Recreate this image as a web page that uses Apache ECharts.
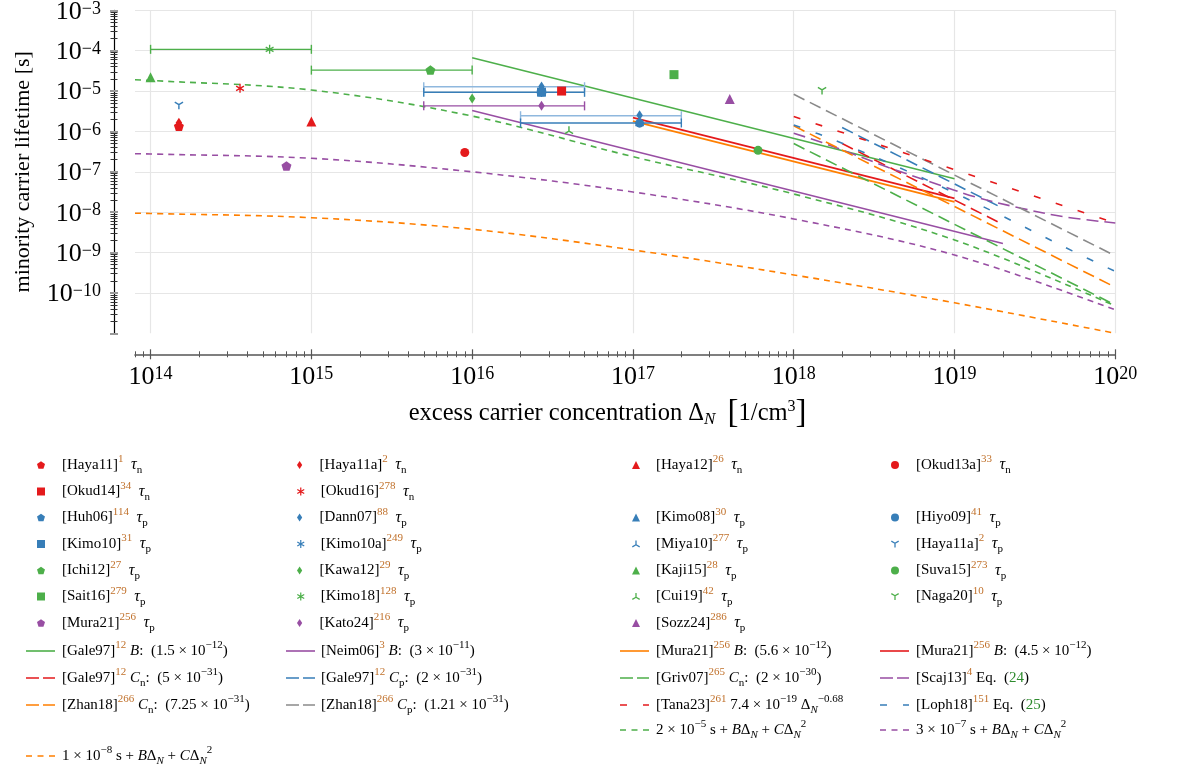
<!DOCTYPE html>
<html><head><meta charset="utf-8">
<script src="https://cdn.jsdelivr.net/npm/echarts@6/dist/echarts.min.js"></script>
<style>html,body{margin:0;padding:0;background:#fff}#c{width:1180px;height:773px}</style>
</head><body><div id="c"></div>
<script>
// ===================== DATA =====================
const xDecades = [14, 15, 16, 17, 18, 19, 20];          // x tick labels 10^n
const yDecades = [-10, -9, -8, -7, -6, -5, -4, -3];     // y tick labels 10^n
const xMin = 8e13, xMax = 1e20, yMin = 1e-11, yMax = 1e-3;

// measured lifetimes [Δn (1/cm^3), τ (s)]
const haya11_n  = [[1.5e14, 1.35e-6]];
const haya11a_n = [[1.5e14, 1.65e-6]];
const haya12_n  = [[1.0e15, 1.75e-6]];
const okud13a_n = [[9.0e15, 3.0e-7]];
const okud14_n  = [[3.6e16, 1.0e-5]];
const okud16_n  = [[3.6e14, 1.17e-5]];
const huh06_p   = [[2.7e16, 9.6e-6]];
const dann07_p  = [[2.7e16, 1.3e-5], [1.1e17, 2.5e-6]];
const kimo08_p  = [[2.7e16, 1.15e-5]];
const hiyo09_p  = [[1.1e17, 1.6e-6]];
const kimo10_p  = [[2.7e16, 9.4e-6]];
const kimo10a_p = [[2.7e16, 9.2e-6]];
const miya10_p  = [[1.1e17, 1.65e-6]];
const haya11a_p = [[1.5e14, 4.4e-6]];
const ichi12_p  = [[5.5e15, 3.3e-5]];
const kawa12_p  = [[1.0e16, 6.5e-6]];
const kaji15_p  = [[1.0e14, 2.2e-5]];
const suva15_p  = [[6.0e17, 3.4e-7]];
const sait16_p  = [[1.8e17, 2.55e-5]];
const kimo18_p  = [[5.5e14, 1.08e-4]];
const cui19_p   = [[4.0e16, 1.07e-6]];
const naga20_p  = [[1.5e18, 1.02e-5]];
const mura21_p  = [[7.0e14, 1.4e-7]];
const kato24_p  = [[2.7e16, 4.3e-6]];
const sozz24_p  = [[4.0e17, 6.4e-6]];

// horizontal error bars [Δn low, Δn high, τ]
const kimo18_err  = [1e14, 1e15, 1.08e-4];
const ichi12_err  = [1e15, 1e16, 3.3e-5];
const dann07_err1 = [5e15, 5e16, 1.28e-5];
const kimo10_err  = [5e15, 5e16, 9.3e-6];
const kato24_err  = [5e15, 5e16, 4.3e-6];
const dann07_err2 = [2e16, 2e17, 2.45e-6];
const hiyo09_err  = [2e16, 2e17, 1.62e-6];

// model lines [Δn, τ]
const gale97B   = [[1e16, 6.7e-5], [1e19, 6.7e-8]];
const neim06B   = [[1e16, 3.3e-6], [2e19, 1.67e-9]];
const mura21B56 = [[1e17, 1.8e-6], [1e19, 1.8e-8]];
const mura21B45 = [[1e17, 2.2e-6], [1e19, 2.2e-8]];
const gale97Cn  = [[2e18, 5e-7], [2e19, 5e-9]];
const gale97Cp  = [[2e18, 1.25e-6], [2e19, 1.25e-8]];
const griv07Cn  = [[1e18, 5e-7], [1e20, 5e-11]];
const scaj13    = [[1e18, 9e-7], [1.5e18, 5.3e-7], [3.85e18, 1.3e-7], [7.1e18, 5.6e-8], [1.34e19, 2.4e-8], [2.6e19, 1.25e-8], [4.9e19, 7.6e-9], [1e20, 5.4e-9]];
const zhan18Cn  = [[1e18, 1.38e-6], [1e20, 1.38e-10]];
const zhan18Cp  = [[1e18, 8.3e-6], [1e20, 8.3e-10]];
const tana23    = [[1e18, 2.35e-6], [1e20, 5.4e-9]];
const loph18    = [[1e18, 1.44e-6], [1.42e18, 8.7e-7], [2e18, 5.1e-7], [5e18, 1.07e-7], [1e19, 3.0e-8], [2e19, 7.9e-9], [5.4e19, 1.1e-9], [1e20, 3.4e-10]];
const curve2e5  = [[8e13, 1.91e-5], [1e14, 1.83e-5], [1e15, 1.06e-5], [1e16, 2.4e-6], [1e17, 2.37e-7], [1e18, 2.82e-8], [1e19, 2.05e-9], [1e20, 4.76e-11]];
const curve3e7  = [[8e13, 2.81e-7], [1e14, 2.76e-7], [1e15, 2.16e-7], [1e16, 1.0e-7], [1e17, 3.16e-8], [1e18, 6.8e-9], [1e19, 8.7e-10], [1e20, 3.8e-11]];
const curve1e8  = [[8e13, 9.4e-9], [1e14, 9.3e-9], [1e15, 7.3e-9], [1e16, 3.77e-9], [1e17, 1.16e-9], [1e18, 2.79e-10], [1e19, 5.7e-11], [1e20, 1.0e-11]];

// ===================== STYLE =====================
const SERIF = "'Liberation Serif', 'DejaVu Serif', serif";
const RED = '#e41a1c', BLUE = '#377eb8', LBLUE = '#8fb8de', GREEN = '#4daf4a',
      PURPLE = '#984ea3', ORANGE = '#ff7f00', GREY = '#8a8a8a';
const CITE = '#c0702a', EQ = '#2e8b2e';

const SYM = {
  pent: 'path://M0,-10L9.51,-3.09L5.88,8.09L-5.88,8.09L-9.51,-3.09Z',
  diam: 'path://M0,-10L6.5,0L0,10L-6.5,0Z',
  tri: 'triangle',
  circ: 'circle',
  sq: 'rect',
  ast: 'path://M-1.5,-10L1.5,-10L1.5,10L-1.5,10Z M7.91,-6.30L9.41,-3.70L-7.91,6.30L-9.41,3.70Z M-9.41,-3.70L-7.91,-6.30L9.41,3.70L7.91,6.30Z',
  ydn: 'path://M-1.5,0L1.5,0L1.5,10L-1.5,10Z M0.75,-1.299L-0.75,1.299L-9.41,-3.70L-7.91,-6.30Z M0.75,1.299L-0.75,-1.299L7.91,-6.30L9.41,-3.70Z',
  yup: 'path://M-1.5,0L1.5,0L1.5,-10L-1.5,-10Z M0.75,1.299L-0.75,-1.299L-9.41,3.70L-7.91,6.30Z M0.75,-1.299L-0.75,1.299L7.91,6.30L9.41,3.70Z'
};
const SYMSIZE = {pent: 10, diam: 10, tri: 10, circ: 9, sq: 9, ast: 9, ydn: 9, yup: 9};

const L = Math.log10;
const lg = d => d.map(p => [L(p[0]), L(p[1])]);

// drawing order: hidden/background markers first
const markerDefs = [
  ['Huh06_p', huh06_p, BLUE, 'pent'], ['Kimo10a_p', kimo10a_p, BLUE, 'ast'], ['Miya10_p', miya10_p, BLUE, 'yup'],
  ['Haya11_n', haya11_n, RED, 'pent'], ['Haya11a_n', haya11a_n, RED, 'diam'],
  ['Haya12_n', haya12_n, RED, 'tri'], ['Okud13a_n', okud13a_n, RED, 'circ'],
  ['Okud14_n', okud14_n, RED, 'sq'], ['Okud16_n', okud16_n, RED, 'ast'],
  ['Kimo08_p', kimo08_p, BLUE, 'tri'], ['Dann07_p', dann07_p, BLUE, 'diam'], ['Hiyo09_p', hiyo09_p, BLUE, 'circ'],
  ['Kimo10_p', kimo10_p, BLUE, 'sq'], ['Haya11a_p', haya11a_p, BLUE, 'ydn'],
  ['Ichi12_p', ichi12_p, GREEN, 'pent'], ['Kawa12_p', kawa12_p, GREEN, 'diam'],
  ['Kaji15_p', kaji15_p, GREEN, 'tri'], ['Suva15_p', suva15_p, GREEN, 'circ'],
  ['Sait16_p', sait16_p, GREEN, 'sq'], ['Kimo18_p', kimo18_p, GREEN, 'ast'],
  ['Cui19_p', cui19_p, GREEN, 'yup'], ['Naga20_p', naga20_p, GREEN, 'ydn'],
  ['Mura21_p', mura21_p, PURPLE, 'pent'], ['Kato24_p', kato24_p, PURPLE, 'diam'],
  ['Sozz24_p', sozz24_p, PURPLE, 'tri']
];

const LONG = [12, 6], SPARSE = [7, 16], SHORT = [6, 5];
const ICON = {
  solid: 'path://M0,0h29v1.6h-29z',
  long: 'path://M0,0h13v1.6h-13z M17,0h12v1.6h-12z',
  sparse: 'path://M0,0h7v1.6h-7z M23,0h6v1.6h-6z',
  short: 'path://M0,0h6v1.6h-6z M11.5,0h6v1.6h-6z M23,0h6v1.6h-6z'
};
const lineDefs = [
  ['Gale97B', gale97B, GREEN, 'solid', false], ['Neim06B', neim06B, PURPLE, 'solid', false],
  ['Mura21B56', mura21B56, ORANGE, 'solid', false], ['Mura21B45', mura21B45, RED, 'solid', false],
  ['Gale97Cn', gale97Cn, RED, 'long', false], ['Gale97Cp', gale97Cp, BLUE, 'long', false],
  ['Griv07Cn', griv07Cn, GREEN, 'long', false], ['Scaj13', scaj13, PURPLE, 'long', true],
  ['Zhan18Cn', zhan18Cn, ORANGE, 'long', false], ['Zhan18Cp', zhan18Cp, GREY, 'long', false],
  ['Tana23', tana23, RED, 'sparse', false], ['Loph18', loph18, BLUE, 'sparse', true],
  ['Curve2e5', curve2e5, GREEN, 'short', true], ['Curve3e7', curve3e7, PURPLE, 'short', true],
  ['Curve1e8', curve1e8, ORANGE, 'short', true]
];
const DASH = {solid: 'solid', long: LONG, sparse: SPARSE, short: SHORT};

const errDefs = [
  [kimo18_err, GREEN], [ichi12_err, GREEN], [dann07_err1, LBLUE], [kimo10_err, BLUE],
  [kato24_err, PURPLE], [dann07_err2, LBLUE], [hiyo09_err, BLUE]
];

// legend texts (rich)
const mk = (ref, cite, s) => `[${ref}]{c|${cite}}  {t|τ}{sb|${s}}`;
const legendText = {
  Haya11_n: mk('Haya11', 1, 'n'), Haya11a_n: mk('Haya11a', 2, 'n'), Haya12_n: mk('Haya12', 26, 'n'),
  Okud13a_n: mk('Okud13a', 33, 'n'), Okud14_n: mk('Okud14', 34, 'n'), Okud16_n: mk('Okud16', 278, 'n'),
  Huh06_p: mk('Huh06', 114, 'p'), Dann07_p: mk('Dann07', 88, 'p'), Kimo08_p: mk('Kimo08', 30, 'p'),
  Hiyo09_p: mk('Hiyo09', 41, 'p'), Kimo10_p: mk('Kimo10', 31, 'p'), Kimo10a_p: mk('Kimo10a', 249, 'p'),
  Miya10_p: mk('Miya10', 277, 'p'), Haya11a_p: mk('Haya11a', 2, 'p'), Ichi12_p: mk('Ichi12', 27, 'p'),
  Kawa12_p: mk('Kawa12', 29, 'p'), Kaji15_p: mk('Kaji15', 28, 'p'), Suva15_p: mk('Suva15', 273, 'p'),
  Sait16_p: mk('Sait16', 279, 'p'), Kimo18_p: mk('Kimo18', 128, 'p'), Cui19_p: mk('Cui19', 42, 'p'),
  Naga20_p: mk('Naga20', 10, 'p'), Mura21_p: mk('Mura21', 256, 'p'), Kato24_p: mk('Kato24', 216, 'p'),
  Sozz24_p: mk('Sozz24', 286, 'p'),
  Gale97B: '[Gale97]{c|12} {i|B}:  (1.5 × 10{k|−12})',
  Neim06B: '[Neim06]{c|3} {i|B}:  (3 × 10{k|−11})',
  Mura21B56: '[Mura21]{c|256} {i|B}:  (5.6 × 10{k|−12})',
  Mura21B45: '[Mura21]{c|256} {i|B}:  (4.5 × 10{k|−12})',
  Gale97Cn: '[Gale97]{c|12} {i|C}{sb|n}:  (5 × 10{k|−31})',
  Gale97Cp: '[Gale97]{c|12} {i|C}{sb|p}:  (2 × 10{k|−31})',
  Griv07Cn: '[Griv07]{c|265} {i|C}{sb|n}:  (2 × 10{k|−30})',
  Scaj13: '[Scaj13]{c|4} Eq.  ({g|24})',
  Zhan18Cn: '[Zhan18]{c|266} {i|C}{sb|n}:  (7.25 × 10{k|−31})',
  Zhan18Cp: '[Zhan18]{c|266} {i|C}{sb|p}:  (1.21 × 10{k|−31})',
  Tana23: '[Tana23]{c|261} 7.4 × 10{k|−19} Δ{si|N}{k|−0.68}',
  Loph18: '[Loph18]{c|151} Eq.  ({g|25})',
  Curve2e5: '2 × 10{k|−5} s + {i|B}Δ{si|N} + {i|C}Δ{si|N}{k|2}',
  Curve3e7: '3 × 10{k|−7} s + {i|B}Δ{si|N} + {i|C}Δ{si|N}{k|2}',
  Curve1e8: '1 × 10{k|−8} s + {i|B}Δ{si|N} + {i|C}Δ{si|N}{k|2}'
};

const legendLayout = [
  ['Haya11_n',0,0],['Haya11a_n',0,1],['Haya12_n',0,2],['Okud13a_n',0,3],
  ['Okud14_n',1,0],['Okud16_n',1,1],
  ['Huh06_p',2,0],['Dann07_p',2,1],['Kimo08_p',2,2],['Hiyo09_p',2,3],
  ['Kimo10_p',3,0],['Kimo10a_p',3,1],['Miya10_p',3,2],['Haya11a_p',3,3],
  ['Ichi12_p',4,0],['Kawa12_p',4,1],['Kaji15_p',4,2],['Suva15_p',4,3],
  ['Sait16_p',5,0],['Kimo18_p',5,1],['Cui19_p',5,2],['Naga20_p',5,3],
  ['Mura21_p',6,0],['Kato24_p',6,1],['Sozz24_p',6,2],
  ['Gale97B',7,0],['Neim06B',7,1],['Mura21B56',7,2],['Mura21B45',7,3],
  ['Gale97Cn',8,0],['Gale97Cp',8,1],['Griv07Cn',8,2],['Scaj13',8,3],
  ['Zhan18Cn',9,0],['Zhan18Cp',9,1],['Tana23',9,2],['Loph18',9,3],
  ['Curve2e5',10,2],['Curve3e7',10,3],
  ['Curve1e8',11,0]
];
const rowY = [465, 491.5, 517.5, 544, 570.5, 596.5, 623, 651, 678, 705, 730, 756];
const markX = [41, 301, 636, 895];
const lineX = [26, 286, 620, 880];
const textX = [62, 321, 656, 916];

const legendRich = {
  c: {fontFamily: SERIF, fontSize: 11, color: CITE, verticalAlign: 'top', lineHeight: 13},
  k: {fontFamily: SERIF, fontSize: 11, color: '#000', verticalAlign: 'top', lineHeight: 13},
  t: {fontFamily: SERIF, fontSize: 16, fontStyle: 'italic', color: '#000', lineHeight: 22},
  sb: {fontFamily: SERIF, fontSize: 11, color: '#000', verticalAlign: 'bottom', lineHeight: 15},
  si: {fontFamily: SERIF, fontSize: 11, fontStyle: 'italic', color: '#000', verticalAlign: 'bottom', lineHeight: 15},
  i: {fontFamily: SERIF, fontSize: 15, fontStyle: 'italic', color: '#000', lineHeight: 22},
  g: {fontFamily: SERIF, fontSize: 15, color: EQ, lineHeight: 22}
};

// ===================== BUILD =====================
const xLo = L(xMin), xHi = L(xMax), yLo = L(yMin), yHi = L(yMax);
function logTicks(lo, hi, majorOnly) {
  const out = [];
  for (let n = Math.floor(lo); n <= Math.ceil(hi); n++) {
    for (let k = 1; k <= 9; k++) {
      if (majorOnly && k > 1) continue;
      const v = n + Math.log10(k);
      if (v >= lo - 1e-9 && v <= hi + 1e-9) out.push(Math.min(Math.max(v, lo), hi));
    }
  }
  return out;
}
const xMinor = logTicks(xLo, xHi, false), xMajor = logTicks(xLo, xHi, true);
const yMinor = logTicks(yLo, yHi, false), yMajor = logTicks(yLo, yHi, true);

const tickLabelRich = {
  b: {fontFamily: SERIF, fontSize: 26, color: '#000', lineHeight: 24},
  s: {fontFamily: SERIF, fontSize: 18, color: '#000', verticalAlign: 'top', lineHeight: 19}
};
const supLabel = v => `{b|10}{s|${v < 0 ? '−' + (-v) : v}}`;

function xAxisCfg(extra) {
  return Object.assign({
    type: 'value', min: xLo, max: xHi, position: 'bottom', offset: 21,
    axisLine: {show: false}, axisTick: {show: false}, axisLabel: {show: false},
    splitLine: {show: false}
  }, extra);
}
function yAxisCfg(extra) {
  return Object.assign({
    type: 'value', min: yLo, max: yHi, interval: 1, position: 'left', offset: 21,
    axisLine: {show: false}, axisTick: {show: false}, axisLabel: {show: false},
    splitLine: {show: false}
  }, extra);
}
const AX = '#555';
const xAxes = [
  {type: 'value', min: xLo, max: xHi, offset: 0,
   axisLine: {show: false}, axisLabel: {show: false},
   axisTick: {show: false, customValues: xDecades},
   splitLine: {show: true, lineStyle: {color: '#e6e6e6', width: 1.2}}},
  xAxisCfg({axisLine: {show: true, lineStyle: {color: AX, width: 1.6}},
    axisTick: {show: true, customValues: xMinor, length: 3, lineStyle: {color: AX, width: 1}},
    axisLabel: {show: true, customValues: xDecades, margin: 11, formatter: supLabel, rich: tickLabelRich},
    name: 'excess carrier concentration {d|Δ}{ni|N}  {br|[}1/cm{cu|3}{br|]}',
    nameLocation: 'middle', nameGap: 44,
    nameTextStyle: {fontFamily: SERIF, fontSize: 24.5, color: '#000', lineHeight: 30, padding: [0, 35, 0, 0],
      rich: {d: {fontFamily: SERIF, fontSize: 24.5, lineHeight: 30},
             ni: {fontFamily: SERIF, fontSize: 17, fontStyle: 'italic', verticalAlign: 'bottom', lineHeight: 21},
             br: {fontFamily: SERIF, fontSize: 33, lineHeight: 30},
             cu: {fontFamily: SERIF, fontSize: 16, verticalAlign: 'top', lineHeight: 18}}}}),
  xAxisCfg({axisTick: {show: true, inside: true, customValues: xMinor, length: 3, lineStyle: {color: AX, width: 1}}}),
  xAxisCfg({axisTick: {show: true, customValues: xMajor, length: 5, lineStyle: {color: AX, width: 1.2}}}),
  xAxisCfg({axisTick: {show: true, inside: true, customValues: xMajor, length: 5, lineStyle: {color: AX, width: 1.2}}})
];
const yAxes = [
  {type: 'value', min: yLo, max: yHi, interval: 1, offset: 0,
   axisLine: {show: false}, axisLabel: {show: false}, axisTick: {show: false},
   splitLine: {show: true, showMinLine: false, lineStyle: {color: '#e6e6e6', width: 1.2}}},
  yAxisCfg({axisLine: {show: true, lineStyle: {color: '#000', width: 1.2}},
    axisTick: {show: true, customValues: yMinor, length: 3.5, lineStyle: {color: '#333', width: 1}},
    axisLabel: {show: true, customValues: yDecades, margin: 13, padding: [3, 0, 0, 0], formatter: supLabel, rich: tickLabelRich},
    name: 'minority carrier lifetime [s]', nameLocation: 'middle', nameGap: 80, nameRotate: 90,
    nameTextStyle: {fontFamily: SERIF, fontSize: 22, color: '#000'}}),
  yAxisCfg({axisTick: {show: true, inside: true, customValues: yMinor, length: 3.5, lineStyle: {color: '#333', width: 1}}}),
  yAxisCfg({axisTick: {show: true, customValues: yMajor, length: 4, lineStyle: {color: '#999', width: 2}}}),
  yAxisCfg({axisTick: {show: true, inside: true, customValues: yMajor, length: 4, lineStyle: {color: '#999', width: 2}}})
];

const series = [];
lineDefs.forEach(([name, d, color, type, smooth]) => {
  series.push({type: 'line', name, data: lg(d), symbol: 'none', smooth: smooth ? 0.35 : false,
    lineStyle: {color, width: 1.6, type: DASH[type]}, itemStyle: {color}, z: 2, silent: true});
});
series.push({
  type: 'custom', name: 'errbars', z: 3, silent: true,
  encode: {x: [0, 1], y: 2},
  data: errDefs.map(([e, color]) => ({value: [L(e[0]), L(e[1]), L(e[2])], itemStyle: {color}})),
  renderItem: (params, api) => {
    const y = api.value(2);
    const a = api.coord([api.value(0), y]), b = api.coord([api.value(1), y]);
    const st = {stroke: api.visual('color'), lineWidth: 1.4};
    const h = 4.5;
    return {type: 'group', children: [
      {type: 'line', shape: {x1: a[0], y1: a[1], x2: b[0], y2: b[1]}, style: st},
      {type: 'line', shape: {x1: a[0], y1: a[1] - h, x2: a[0], y2: a[1] + h}, style: st},
      {type: 'line', shape: {x1: b[0], y1: b[1] - h, x2: b[0], y2: b[1] + h}, style: st}
    ]};
  }
});
markerDefs.forEach(([name, d, color, sym], idx) => {
  series.push({type: 'scatter', name, data: lg(d), symbol: SYM[sym], symbolSize: SYMSIZE[sym],
    symbolKeepAspect: true, itemStyle: {color, opacity: 1}, z: 5, zlevel: 0, silent: true});
});

const lineType = {};
lineDefs.forEach(d => { lineType[d[0]] = d[3]; });
const legends = legendLayout.map(([name, r, c]) => {
  const lt = lineType[name];
  const cfg = {
    data: [name], padding: 0, itemGap: 0, selectedMode: false,
    top: rowY[r] - 11,
    formatter: () => legendText[name]
  };
  if (lt) {
    Object.assign(cfg, {left: lineX[c], itemWidth: 29, itemHeight: 1.6, icon: ICON[lt],
      itemStyle: {borderWidth: 0},
      textStyle: {fontFamily: SERIF, fontSize: 15, color: '#000', lineHeight: 22, rich: legendRich,
        padding: [0, 0, 0, Math.max(0, textX[c] - lineX[c] - 34)]}});
  } else {
    Object.assign(cfg, {left: markX[c] - 4, itemWidth: 8, itemHeight: 8,
      textStyle: {fontFamily: SERIF, fontSize: 15, color: '#000', lineHeight: 22, rich: legendRich,
        padding: [0, 0, 0, textX[c] - markX[c] - 9]}});
  }
  return cfg;
});

const chart = echarts.init(document.getElementById('c'), null, {renderer: 'canvas'});
chart.setOption({
  animation: false,
  backgroundColor: '#fff',
  grid: {left: 135, right: 64.7, top: 10.3, bottom: 439.7, containLabel: false, outerBoundsMode: 'none'},
  xAxis: xAxes,
  yAxis: yAxes,
  legend: legends,
  series
});
</script></body></html>
